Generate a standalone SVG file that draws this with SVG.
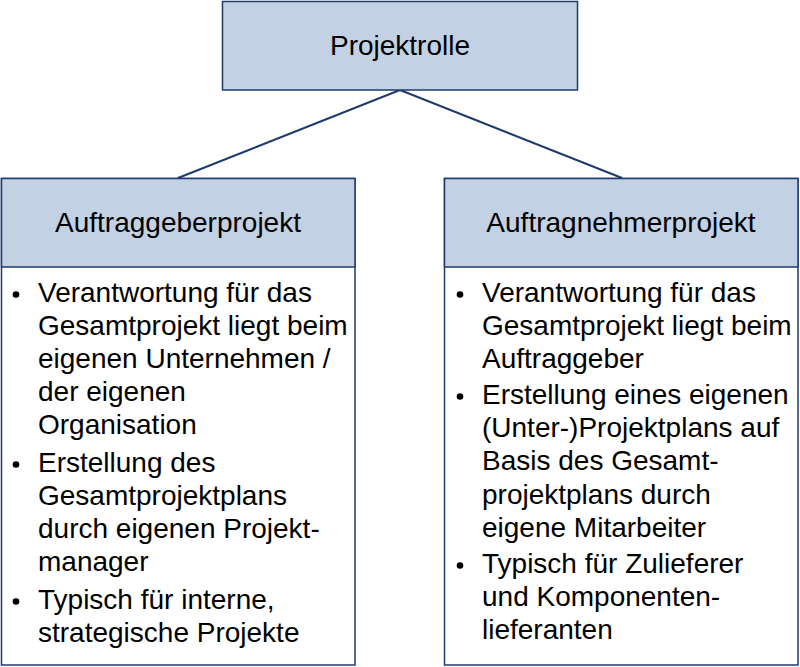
<svg xmlns="http://www.w3.org/2000/svg" width="800" height="667" viewBox="0 0 800 667">
<style>
.hdr{fill:#c3d1e4;stroke:#1f3b6e;stroke-width:1.5}
.body{fill:#ffffff;stroke:#1f3b6e;stroke-width:1.5}
.conn{stroke:#1f3b6e;stroke-width:2;fill:none}
text{font-family:"Liberation Sans",Arial,sans-serif;font-size:28px;fill:#000}
.c{text-anchor:middle}
.dot{fill:#000}
</style>
<rect width="800" height="667" fill="#ffffff"/>
<g id="connectors">
<line class="conn" x1="400" y1="90" x2="178" y2="178"/>
<line class="conn" x1="400" y1="90" x2="622" y2="178"/>
</g>
<g id="projektrolle">
<rect class="hdr" x="222.5" y="1.5" width="355" height="88.5"/>
<text class="c" x="400" y="55">Projektrolle</text>
</g>
<g id="auftraggeberprojekt">
<rect class="body" x="1.5" y="178.5" width="353.5" height="486.5"/>
<rect class="hdr" x="1.5" y="178.5" width="353.5" height="88.5"/>
<text class="c" x="178" y="232">Auftraggeberprojekt</text>
<circle class="dot" cx="16" cy="294.5" r="3.3"/>
<circle class="dot" cx="16" cy="464.5" r="3.3"/>
<circle class="dot" cx="16" cy="601.5" r="3.3"/>
<text x="38" y="302">Verantwortung für das</text>
<text x="38" y="335">Gesamtprojekt liegt beim</text>
<text x="38" y="368">eigenen Unternehmen /</text>
<text x="38" y="401">der eigenen</text>
<text x="38" y="434">Organisation</text>
<text x="38" y="472">Erstellung des</text>
<text x="38" y="505">Gesamtprojektplans</text>
<text x="38" y="538">durch eigenen Projekt-</text>
<text x="38" y="571">manager</text>
<text x="38" y="609">Typisch für interne,</text>
<text x="38" y="642">strategische Projekte</text>
</g>
<g id="auftragnehmerprojekt">
<rect class="body" x="444.5" y="178.5" width="353.5" height="486.5"/>
<rect class="hdr" x="444.5" y="178.5" width="353.5" height="88.5"/>
<text class="c" x="621" y="232">Auftragnehmerprojekt</text>
<circle class="dot" cx="460" cy="294.5" r="3.3"/>
<circle class="dot" cx="460" cy="396.5" r="3.3"/>
<circle class="dot" cx="460" cy="565.5" r="3.3"/>
<text x="482" y="302">Verantwortung für das</text>
<text x="482" y="335">Gesamtprojekt liegt beim</text>
<text x="482" y="368">Auftraggeber</text>
<text x="482" y="404">Erstellung eines eigenen</text>
<text x="482" y="437">(Unter-)Projektplans auf</text>
<text x="482" y="470">Basis des Gesamt-</text>
<text x="482" y="504">projektplans durch</text>
<text x="482" y="537">eigene Mitarbeiter</text>
<text x="482" y="573">Typisch für Zulieferer</text>
<text x="482" y="606">und Komponenten-</text>
<text x="482" y="639">lieferanten</text>
</g>
</svg>
